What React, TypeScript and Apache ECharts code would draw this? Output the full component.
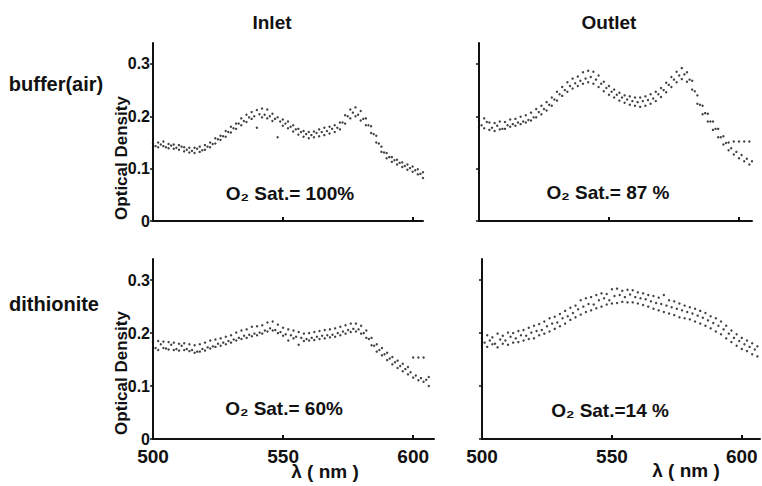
import React, { useEffect, useRef } from "react";
import * as echarts from "echarts";

// Wavelength grids (nm) of the interleaved scans
const evenNm = [
  500, 502, 504, 506, 508, 510, 512, 514, 516, 518,
  520, 522, 524, 526, 528, 530, 532, 534, 536, 538,
  540, 542, 544, 546, 548, 550, 552, 554, 556, 558,
  560, 562, 564, 566, 568, 570, 572, 574, 576, 578,
  580, 582, 584, 586, 588, 590, 592, 594, 596, 598,
  600, 602, 604, 606,
];
const oddNm = [
  501, 503, 505, 507, 509, 511, 513, 515, 517, 519,
  521, 523, 525, 527, 529, 531, 533, 535, 537, 539,
  541, 543, 545, 547, 549, 551, 553, 555, 557, 559,
  561, 563, 565, 567, 569, 571, 573, 575, 577, 579,
  581, 583, 585, 587, 589, 591, 593, 595, 597, 599,
  601, 603, 605,
];

// Inlet, buffer(air)
const inletAirA = [
  0.148, 0.150, 0.152, 0.147, 0.146, 0.145, 0.141, 0.140, 0.140, 0.142,
  0.145, 0.150, 0.158, 0.163, 0.172, 0.180, 0.186, 0.196, 0.203, 0.208,
  0.212, 0.215, 0.213, 0.205, 0.198, 0.194, 0.190, 0.183, 0.176, 0.172,
  0.170, 0.171, 0.175, 0.178, 0.180, 0.183, 0.188, 0.202, 0.213, 0.217,
  0.210, 0.196, 0.181, 0.163, 0.142, 0.130, 0.122, 0.117, 0.112, 0.108,
  0.104, 0.099, 0.093, 0.088,
];
const inletAirB = [
  0.143, 0.146, 0.141, 0.144, 0.140, 0.142, 0.136, 0.134, 0.138, 0.135,
  0.142, 0.147, 0.156, 0.162, 0.170, 0.177, 0.186, 0.191, 0.198, 0.200,
  0.204, 0.203, 0.200, 0.195, 0.190, 0.186, 0.180, 0.175, 0.170, 0.166,
  0.164, 0.168, 0.170, 0.172, 0.176, 0.178, 0.188, 0.200, 0.207, 0.203,
  0.195, 0.183, 0.166, 0.148, 0.131, 0.122, 0.116, 0.111, 0.105, 0.101,
  0.097, 0.090, 0.085,
];
const inletAirC = [
  0.140, 0.141, 0.143, 0.139, 0.138, 0.136, 0.133, 0.131, 0.130, 0.132,
  0.136, 0.141, 0.148, 0.155, 0.161, 0.169, 0.176, 0.183, 0.189, 0.195,
  0.178, 0.198, 0.196, 0.191, 0.160, 0.182, 0.177, 0.171, 0.165, 0.161,
  0.158, 0.160, 0.162, 0.164, 0.167, 0.170, 0.175, 0.186, 0.196, 0.200,
  0.192, 0.183, 0.168, 0.150, 0.132, 0.120, 0.113, 0.108, 0.103, 0.098,
  0.094, 0.089, 0.082, 0.078,
];

// Outlet, buffer(air)
const outletAirA = [
  0.192, 0.196, 0.188, 0.187, 0.190, 0.189, 0.194, 0.195, 0.199, 0.202,
  0.207, 0.214, 0.220, 0.227, 0.236, 0.247, 0.256, 0.265, 0.272, 0.276,
  0.284, 0.287, 0.285, 0.278, 0.266, 0.258, 0.251, 0.245, 0.240, 0.238,
  0.236, 0.236, 0.238, 0.242, 0.247, 0.254, 0.264, 0.275, 0.285, 0.292,
  0.284, 0.268, 0.240, 0.220, 0.205, 0.190, 0.176, 0.162, 0.150, 0.152,
  0.152, 0.152, 0.152, 0.120,
];
const outletAirB = [
  0.183, 0.189, 0.178, 0.182, 0.176, 0.183, 0.185, 0.188, 0.190, 0.193,
  0.198, 0.208, 0.214, 0.222, 0.232, 0.242, 0.250, 0.258, 0.263, 0.268,
  0.272, 0.275, 0.270, 0.262, 0.254, 0.247, 0.241, 0.236, 0.232, 0.229,
  0.227, 0.229, 0.231, 0.234, 0.242, 0.250, 0.260, 0.270, 0.278, 0.280,
  0.270, 0.248, 0.222, 0.206, 0.190, 0.176, 0.160, 0.149, 0.139, 0.132,
  0.126, 0.119, 0.114,
];
const outletAirC = [
  0.180, 0.177, 0.174, 0.172, 0.175, 0.176, 0.180, 0.182, 0.185, 0.188,
  0.192, 0.198, 0.204, 0.211, 0.220, 0.230, 0.239, 0.247, 0.253, 0.258,
  0.262, 0.265, 0.262, 0.256, 0.248, 0.241, 0.236, 0.230, 0.226, 0.222,
  0.220, 0.218, 0.220, 0.224, 0.229, 0.237, 0.246, 0.256, 0.265, 0.271,
  0.266, 0.251, 0.224, 0.204, 0.190, 0.174, 0.160, 0.146, 0.135, 0.127,
  0.120, 0.114, 0.108, 0.104,
];

// Inlet, dithionite
const inletDithA = [
  0.183, 0.185, 0.184, 0.183, 0.182, 0.180, 0.181, 0.179, 0.177, 0.179,
  0.182, 0.186, 0.188, 0.190, 0.193, 0.196, 0.201, 0.205, 0.207, 0.212,
  0.213, 0.215, 0.220, 0.222, 0.216, 0.210, 0.207, 0.205, 0.202, 0.199,
  0.200, 0.202, 0.204, 0.206, 0.207, 0.209, 0.212, 0.215, 0.218, 0.218,
  0.214, 0.205, 0.191, 0.179, 0.172, 0.163, 0.155, 0.148, 0.142, 0.136,
  0.154, 0.154, 0.154, 0.117,
];
const inletDithB = [
  0.172, 0.179, 0.171, 0.178, 0.170, 0.176, 0.170, 0.168, 0.165, 0.170,
  0.173, 0.175, 0.180, 0.182, 0.185, 0.188, 0.191, 0.195, 0.197, 0.199,
  0.201, 0.205, 0.209, 0.206, 0.202, 0.198, 0.196, 0.193, 0.191, 0.189,
  0.191, 0.193, 0.195, 0.196, 0.197, 0.200, 0.203, 0.206, 0.208, 0.207,
  0.200, 0.189, 0.176, 0.168, 0.160, 0.152, 0.145, 0.138, 0.132, 0.126,
  0.120, 0.115, 0.112,
];
const inletDithC = [
  0.171, 0.168, 0.172, 0.169, 0.168, 0.167, 0.168, 0.166, 0.163, 0.165,
  0.167, 0.171, 0.174, 0.176, 0.179, 0.182, 0.186, 0.189, 0.191, 0.194,
  0.196, 0.199, 0.203, 0.205, 0.200, 0.195, 0.186, 0.190, 0.178, 0.185,
  0.186, 0.187, 0.189, 0.190, 0.192, 0.193, 0.196, 0.199, 0.202, 0.203,
  0.199, 0.191, 0.177, 0.165, 0.158, 0.149, 0.141, 0.134, 0.128, 0.122,
  0.116, 0.111, 0.108, 0.100,
];

// Outlet, dithionite
const outletDithA = [
  0.190, 0.196, 0.192, 0.199, 0.195, 0.201, 0.200, 0.204, 0.206, 0.210,
  0.214, 0.217, 0.222, 0.228, 0.231, 0.236, 0.242, 0.248, 0.252, 0.262,
  0.266, 0.268, 0.272, 0.275, 0.274, 0.283, 0.284, 0.280, 0.282, 0.281,
  0.277, 0.275, 0.272, 0.270, 0.267, 0.272, 0.262, 0.260, 0.256, 0.252,
  0.249, 0.246, 0.242, 0.238, 0.232, 0.228, 0.222, 0.214, 0.205, 0.198,
  0.191, 0.186, 0.181, 0.175,
];
const outletDithB = [
  0.182, 0.186, 0.180, 0.188, 0.186, 0.193, 0.190, 0.196, 0.195, 0.201,
  0.204, 0.206, 0.213, 0.218, 0.220, 0.228, 0.232, 0.238, 0.245, 0.250,
  0.255, 0.254, 0.262, 0.266, 0.262, 0.270, 0.272, 0.268, 0.273, 0.268,
  0.266, 0.264, 0.260, 0.257, 0.255, 0.252, 0.249, 0.246, 0.243, 0.240,
  0.237, 0.233, 0.229, 0.224, 0.219, 0.214, 0.207, 0.199, 0.191, 0.185,
  0.179, 0.174, 0.169,
];
const outletDithC = [
  0.176, 0.174, 0.179, 0.173, 0.180, 0.178, 0.182, 0.183, 0.186, 0.189,
  0.190, 0.196, 0.199, 0.203, 0.208, 0.213, 0.218, 0.225, 0.230, 0.235,
  0.240, 0.243, 0.247, 0.250, 0.254, 0.256, 0.257, 0.259, 0.258, 0.258,
  0.256, 0.253, 0.250, 0.246, 0.243, 0.240, 0.237, 0.234, 0.230, 0.228,
  0.226, 0.222, 0.218, 0.214, 0.209, 0.203, 0.198, 0.190, 0.183, 0.176,
  0.170, 0.166, 0.160, 0.156,
];

const yTicks = [0, 0.1, 0.2, 0.3];
const xTicks = [500, 550, 600];
const xInnerTicks = [550, 600];
const colTitles = ["Inlet", "Outlet"];
const rowTitles = ["buffer(air)", "dithionite"];
const satLabels = ["O₂ Sat.= 100%", "O₂ Sat.= 87 %", "O₂ Sat.= 60%", "O₂ Sat.=14 %"];
const yName = "Optical Density";
const xName = "λ ( nm )";

const panelScans = [
  [inletAirA, inletAirB, inletAirC],
  [outletAirA, outletAirB, outletAirC],
  [inletDithA, inletDithB, inletDithC],
  [outletDithA, outletDithB, outletDithC],
];

const panels = [
  { left: 153, top: 43, width: 270, height: 178, xMax: 604, showX: false, showY: true },
  { left: 479, top: 43, width: 273, height: 178, xMax: 605, showX: false, showY: false },
  { left: 153, top: 259, width: 281, height: 180, xMax: 608, showX: true, showY: true },
  { left: 482, top: 259, width: 278, height: 180, xMax: 607, showX: true, showY: false },
];

const INK = "#111";
const FONT = "Liberation Sans";

function txt(text: string, x: number, y: number, size: number, extra: any = {}) {
  return {
    type: "text",
    x,
    y,
    silent: true,
    ...extra,
    style: {
      text,
      fill: INK,
      fontFamily: FONT,
      fontWeight: "bold",
      fontSize: size,
      align: "center",
      verticalAlign: "middle",
      textAlign: "center",
      textVerticalAlign: "middle",
    },
  };
}

export default function App() {
  const ref = useRef<HTMLDivElement>(null);

  useEffect(() => {
    if (!ref.current) return;
    const chart = echarts.init(ref.current, null, { renderer: "svg" });

    const grid = panels.map((p) => ({
      left: p.left,
      top: p.top,
      width: p.width,
      height: p.height,
      containLabel: false,
    }));

    const xAxis = panels.map((p, i) => ({
      type: "value",
      gridIndex: i,
      min: 500,
      max: p.xMax,
      interval: 50,
      axisLine: { show: true, onZero: false, lineStyle: { color: INK, width: 2 } },
      axisTick: {
        show: true,
        inside: true,
        length: 4,
        customValues: xInnerTicks,
        lineStyle: { color: INK, width: 2 },
      },
      axisLabel: {
        show: p.showX,
        customValues: xTicks,
        color: INK,
        fontFamily: FONT,
        fontWeight: "bold",
        fontSize: 19,
        margin: 8,
      },
      splitLine: { show: false },
    }));

    const yAxis = panels.map((p, i) => ({
      type: "value",
      gridIndex: i,
      min: 0,
      max: 0.34,
      interval: 0.1,
      axisLine: { show: true, onZero: false, lineStyle: { color: INK, width: 2 } },
      axisTick: {
        show: true,
        inside: false,
        length: 3,
        customValues: yTicks,
        lineStyle: { color: INK, width: 1.5 },
      },
      axisLabel: {
        show: p.showY,
        customValues: yTicks,
        color: INK,
        fontFamily: FONT,
        fontWeight: "bold",
        fontSize: 16,
        margin: 3,
      },
      splitLine: { show: false },
    }));

    const series: any[] = [];
    panelScans.forEach((scans, i) => {
      const grids = [evenNm, oddNm, evenNm];
      scans.forEach((vals, k) => {
        series.push({
          type: "scatter",
          xAxisIndex: i,
          yAxisIndex: i,
          symbol: "circle",
          symbolSize: 2.4,
          itemStyle: { color: INK },
          clip: true,
          silent: true,
          data: vals.map((v, j) => [grids[k][j], v]),
        });
      });
    });

    const graphic: any[] = [
      txt(colTitles[0], 272, 22, 19),
      txt(colTitles[1], 609, 22, 19),
      txt(rowTitles[0], 56, 84, 20),
      txt(rowTitles[1], 54, 304, 20),
      txt(yName, 121, 158, 17, { rotation: Math.PI / 2 }),
      txt(yName, 121, 373, 17, { rotation: Math.PI / 2 }),
      txt(satLabels[0], 290, 193, 19),
      txt(satLabels[1], 608, 192, 19),
      txt(satLabels[2], 284, 408, 19),
      txt(satLabels[3], 610, 410, 19),
      txt(xName, 325, 471, 19),
      txt(xName, 686, 470, 19),
    ];

    chart.setOption({
      animation: false,
      backgroundColor: "#fff",
      grid,
      xAxis,
      yAxis,
      series,
      graphic,
    });

    return () => chart.dispose();
  }, []);

  return (
    <div
      ref={ref}
      style={{ position: "fixed", left: 0, top: 0, width: 762, height: 486, background: "#fff" }}
    />
  );
}
